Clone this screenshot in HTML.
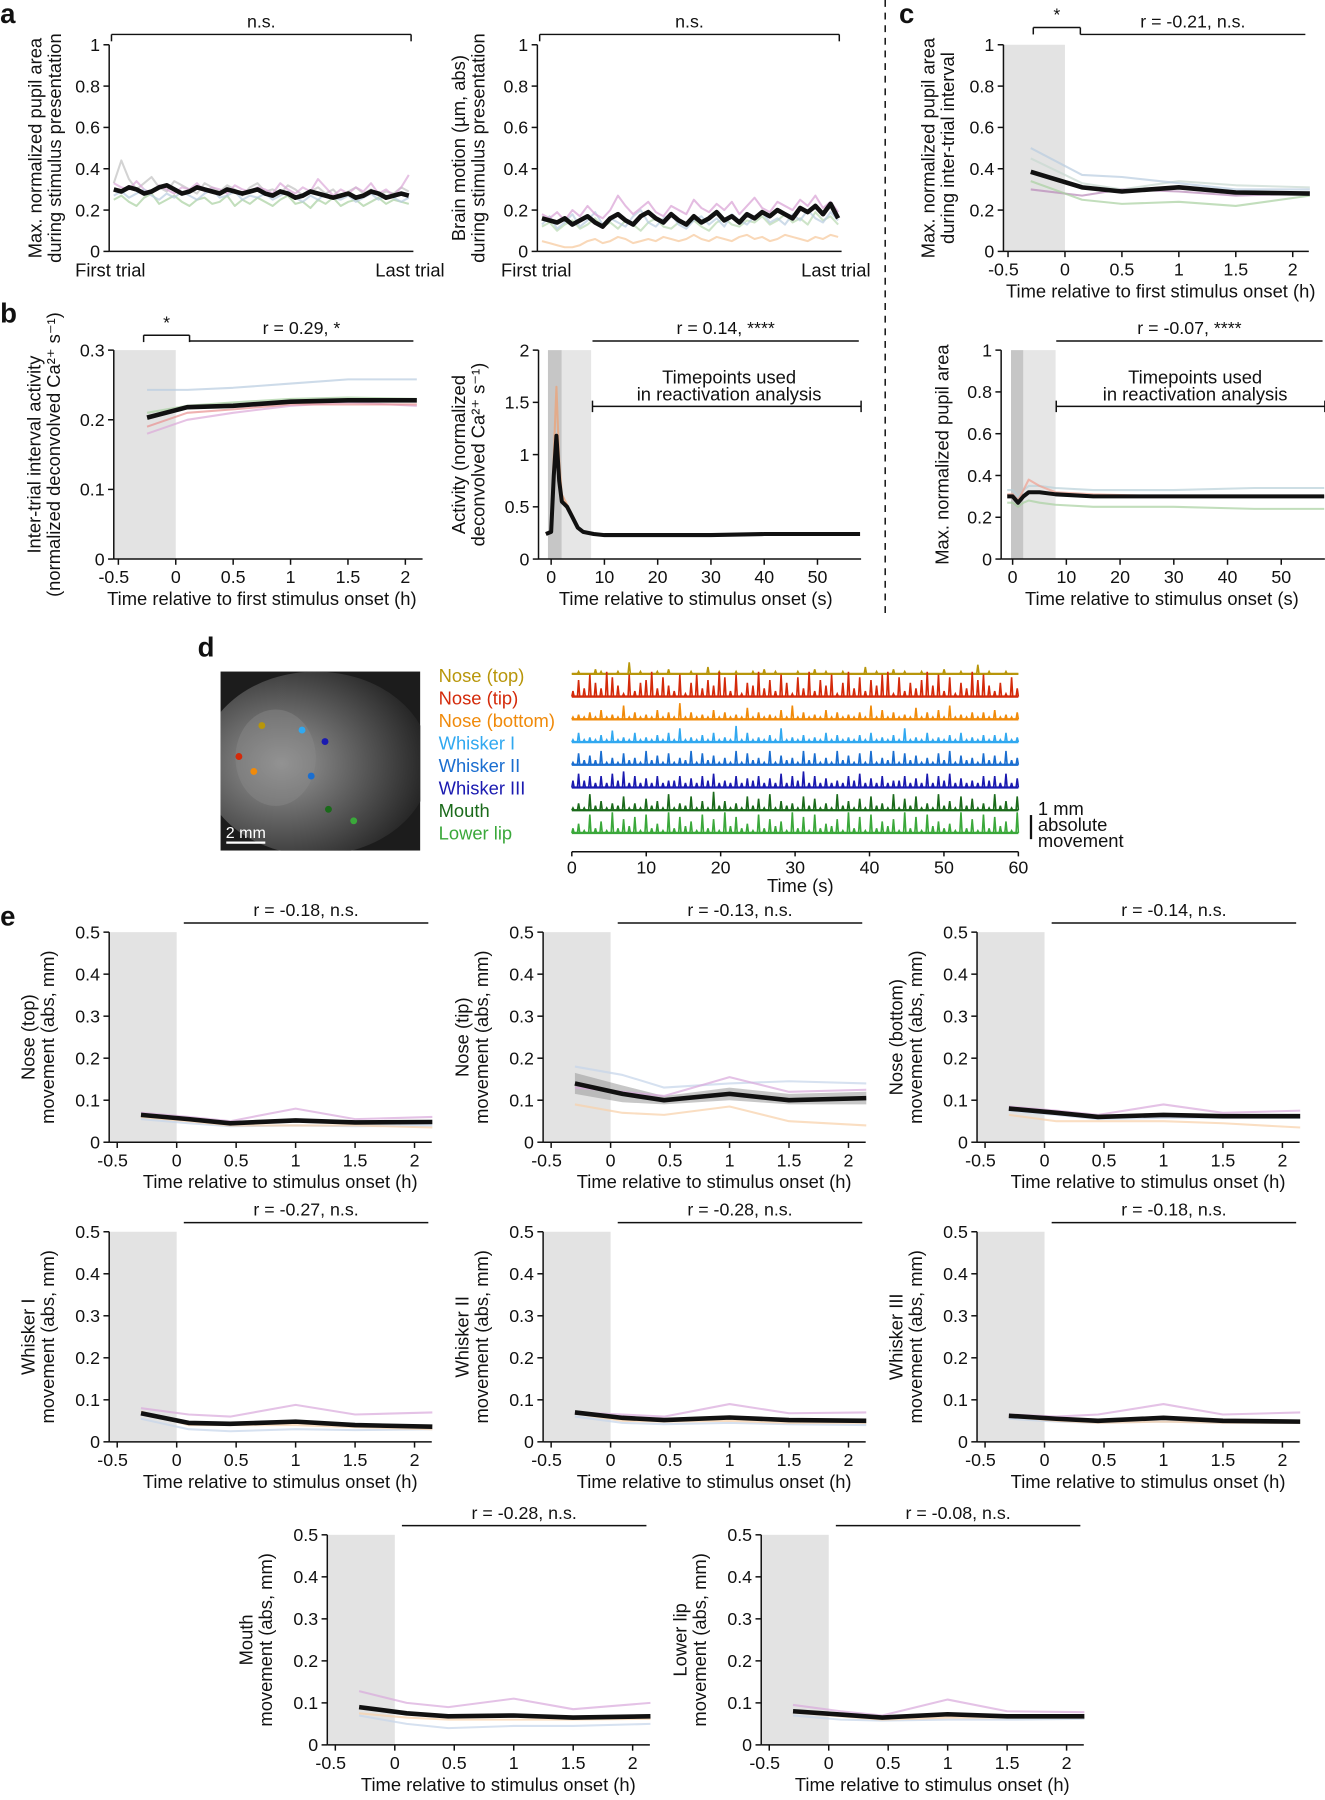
<!DOCTYPE html>
<html><head><meta charset="utf-8"><style>
html,body{margin:0;padding:0;background:#fff;}
svg{display:block;font-family:"Liberation Sans",Arial,sans-serif;}
</style></head><body>
<svg id="fig" width="1325" height="1800" viewBox="0 0 1154 1568" xmlns="http://www.w3.org/2000/svg">
<defs><radialGradient id="fur" cx="0.35" cy="0.5" r="0.7"><stop offset="0" stop-color="#9a9a9a"/><stop offset="0.5" stop-color="#5a5a5a"/><stop offset="1" stop-color="#1a1a1a"/></radialGradient>
<clipPath id="photoClip"><rect x="192" y="585" width="174" height="156"/></clipPath></defs>
</svg>
<script>
// ---------- data ----------
const trialIdx = Array.from({length:40},(_, i)=>i);
const a1Black=[0.30,0.29,0.31,0.30,0.28,0.29,0.31,0.32,0.30,0.28,0.29,0.31,0.30,0.29,0.28,0.30,0.29,0.28,0.29,0.30,0.28,0.27,0.29,0.28,0.26,0.27,0.29,0.28,0.27,0.26,0.27,0.28,0.26,0.27,0.29,0.28,0.26,0.27,0.28,0.27];
const a1Pink=[0.33,0.31,0.30,0.34,0.30,0.28,0.32,0.30,0.28,0.31,0.30,0.33,0.29,0.31,0.30,0.28,0.32,0.30,0.29,0.31,0.30,0.28,0.33,0.30,0.28,0.31,0.29,0.35,0.31,0.27,0.30,0.28,0.31,0.29,0.33,0.28,0.30,0.27,0.31,0.37];
const a1Green=[0.25,0.27,0.24,0.22,0.26,0.28,0.23,0.25,0.27,0.24,0.22,0.25,0.26,0.23,0.24,0.27,0.22,0.25,0.23,0.26,0.24,0.22,0.25,0.27,0.23,0.24,0.21,0.25,0.23,0.26,0.22,0.24,0.25,0.22,0.24,0.26,0.23,0.25,0.24,0.23];
const a1Gray=[0.33,0.44,0.35,0.30,0.33,0.36,0.31,0.29,0.34,0.32,0.30,0.28,0.33,0.31,0.29,0.32,0.30,0.27,0.31,0.33,0.29,0.30,0.28,0.32,0.30,0.27,0.29,0.31,0.28,0.30,0.26,0.29,0.31,0.28,0.30,0.27,0.29,0.28,0.31,0.29];
const a1Blue=[0.27,0.29,0.26,0.28,0.30,0.27,0.25,0.28,0.26,0.29,0.27,0.25,0.28,0.30,0.26,0.27,0.29,0.25,0.27,0.26,0.28,0.25,0.27,0.29,0.26,0.24,0.27,0.25,0.28,0.26,0.25,0.27,0.24,0.26,0.28,0.25,0.27,0.26,0.24,0.26];
const a2Black=[0.16,0.15,0.14,0.16,0.13,0.15,0.17,0.14,0.12,0.16,0.18,0.15,0.13,0.17,0.19,0.16,0.14,0.18,0.15,0.13,0.17,0.14,0.16,0.19,0.15,0.17,0.14,0.18,0.16,0.19,0.17,0.20,0.18,0.16,0.21,0.19,0.22,0.18,0.23,0.16];
const a2Pink=[0.18,0.16,0.19,0.15,0.20,0.17,0.22,0.18,0.16,0.20,0.27,0.22,0.18,0.21,0.24,0.19,0.17,0.22,0.20,0.18,0.25,0.21,0.19,0.23,0.20,0.24,0.18,0.22,0.26,0.21,0.19,0.24,0.22,0.20,0.25,0.22,0.27,0.21,0.24,0.19];
const a2Orange=[0.05,0.04,0.03,0.02,0.02,0.03,0.05,0.06,0.04,0.05,0.07,0.06,0.04,0.05,0.06,0.05,0.07,0.06,0.05,0.06,0.08,0.06,0.05,0.07,0.06,0.05,0.07,0.08,0.06,0.07,0.05,0.06,0.08,0.07,0.06,0.05,0.07,0.06,0.08,0.07];
const a2Blue=[0.13,0.17,0.11,0.14,0.18,0.12,0.15,0.19,0.13,0.16,0.14,0.12,0.17,0.20,0.14,0.12,0.16,0.18,0.13,0.11,0.15,0.17,0.13,0.16,0.12,0.18,0.15,0.13,0.17,0.19,0.14,0.16,0.13,0.18,0.15,0.20,0.16,0.14,0.19,0.15];
const a2Green=[0.12,0.14,0.10,0.13,0.15,0.11,0.13,0.16,0.12,0.14,0.11,0.15,0.13,0.10,0.14,0.16,0.12,0.11,0.14,0.13,0.15,0.12,0.10,0.14,0.16,0.13,0.12,0.15,0.14,0.17,0.13,0.15,0.18,0.14,0.16,0.13,0.19,0.15,0.17,0.13];

const b1Hours=[-0.25,0.1,0.5,1,1.5,2.1];
const b1Black=[0.203,0.218,0.22,0.226,0.228,0.228];
const b1Blue=[0.243,0.243,0.246,0.252,0.258,0.258];
const b1Red=[0.19,0.21,0.215,0.222,0.222,0.222];
const b1Green=[0.21,0.22,0.225,0.23,0.232,0.23];
const b1Pink=[0.18,0.2,0.21,0.22,0.225,0.22];

const c1Hours=[-0.3,0.15,0.5,1,1.5,2.15];
const c1Black=[0.385,0.31,0.29,0.31,0.285,0.28];
const c1Blue=[0.5,0.37,0.36,0.33,0.3,0.3];
const c1Pink=[0.3,0.27,0.3,0.29,0.27,0.28];
const c1Green=[0.34,0.25,0.23,0.24,0.22,0.27];
const c1Gray=[0.45,0.33,0.3,0.34,0.32,0.31];

const b2Sec=[-1,0,0.5,1,1.5,2,3,4,5,6,8,10,15,20,30,40,50,58];
const b2Black=[0.24,0.26,0.8,1.18,0.75,0.55,0.5,0.4,0.3,0.26,0.24,0.23,0.23,0.23,0.23,0.24,0.24,0.24];
const b2Red=[0.24,0.27,1.0,1.65,0.95,0.62,0.52,0.42,0.3,0.26,0.24,0.23,0.23,0.23,0.24,0.24,0.24,0.24];
const c2Sec=[-1,0,1,2,3,5,8,15,30,45,58];
const c2Black=[0.30,0.30,0.27,0.30,0.32,0.32,0.31,0.30,0.30,0.30,0.30];
const c2Blue=[0.33,0.33,0.30,0.33,0.35,0.35,0.34,0.33,0.33,0.34,0.34];
const c2Green=[0.27,0.27,0.25,0.27,0.28,0.27,0.26,0.25,0.25,0.24,0.24];
const c2Red=[0.31,0.31,0.28,0.33,0.38,0.35,0.32,0.31,0.30,0.30,0.30];

const traceNames=["Nose (top)","Nose (tip)","Nose (bottom)","Whisker I","Whisker II","Whisker III","Mouth","Lower lip"];
const traceColors=["#b8960a","#d42a0a","#f08a0a","#30a8f0","#1a6ed0","#1a1ab0","#1a6a1a","#3aa83a"];
const traceDigits=[
"01002100105010010200010030100100102010001002010010003010020100100020010040100100",
"26385397418256937428158364972815493628517392648159372648917253694827153968425173",
"12131412161312141317131214131215131214161312141312131614131215131416121313141213",
"14121315121412131416121314121714121316121312141312131412131612141213141213131412",
"15242613152316241513261524131615231614231625131624151613261524131526142315241623",
"36352526372524252335242536232524352426253725242325362425233524262536242325352624",
"13172413261315241713261418241316251714231625131724151623171526131724162513172416",
"24182519263718241927351826193724182635192718243619271825361927183524192618273519"];
const traceTicks=[0,10,20,30,40,50,60];

const eHours=[-0.3,0.1,0.45,1,1.5,2.15];
const eTitles=["r = -0.18, n.s.","r = -0.13, n.s.","r = -0.14, n.s.","r = -0.27, n.s.","r = -0.28, n.s.","r = -0.18, n.s.","r = -0.28, n.s.","r = -0.08, n.s."];
const eLabels=[["Nose (top)","movement (abs, mm)"],["Nose (tip)","movement (abs, mm)"],["Nose (bottom)","movement (abs, mm)"],["Whisker I","movement (abs, mm)"],["Whisker II","movement (abs, mm)"],["Whisker III","movement (abs, mm)"],["Mouth","movement (abs, mm)"],["Lower lip","movement (abs, mm)"]];
const eBlack=[[0.065,0.055,0.045,0.052,0.047,0.048],[0.14,0.115,0.10,0.115,0.10,0.105],[0.08,0.07,0.06,0.065,0.062,0.062],[0.068,0.045,0.043,0.048,0.04,0.036],[0.07,0.057,0.052,0.058,0.052,0.05],[0.062,0.055,0.05,0.057,0.05,0.048],[0.09,0.075,0.068,0.07,0.065,0.068],[0.08,0.072,0.065,0.073,0.068,0.068]];
const ePink=[[0.07,0.06,0.05,0.08,0.055,0.06],[0.13,0.12,0.11,0.155,0.12,0.125],[0.085,0.075,0.065,0.09,0.07,0.075],[0.08,0.065,0.06,0.088,0.065,0.07],[0.07,0.065,0.06,0.09,0.068,0.07],[0.065,0.06,0.065,0.09,0.065,0.07],[0.128,0.1,0.09,0.11,0.085,0.1],[0.095,0.08,0.07,0.108,0.08,0.078]];
const eOrange=[[0.06,0.05,0.04,0.04,0.04,0.035],[0.09,0.07,0.065,0.085,0.05,0.04],[0.065,0.05,0.05,0.05,0.045,0.035],[0.072,0.04,0.04,0.04,0.035,0.03],[0.068,0.05,0.048,0.05,0.045,0.045],[0.06,0.05,0.045,0.048,0.045,0.045],[0.075,0.065,0.06,0.06,0.06,0.062],[0.078,0.068,0.06,0.065,0.065,0.065]];
const eBlue=[[0.055,0.045,0.038,0.04,0.038,0.04],[0.18,0.16,0.13,0.14,0.145,0.14],[0.075,0.065,0.055,0.058,0.058,0.058],[0.055,0.03,0.025,0.03,0.028,0.03],[0.06,0.045,0.042,0.045,0.042,0.04],[0.055,0.048,0.045,0.048,0.045,0.045],[0.07,0.05,0.04,0.045,0.045,0.05],[0.07,0.06,0.058,0.06,0.06,0.062]];
const tipBandLo=[0.115,0.095,0.09,0.1,0.09,0.09];
const tipBandHi=[0.165,0.135,0.11,0.13,0.115,0.12];

// ---------- helpers ----------
const svg=document.getElementById('fig');
const NS='http://www.w3.org/2000/svg';
const TFS=15.5, LFS=16;
function mk(tag,attrs,parent,txt){const e=document.createElementNS(NS,tag);for(const k in attrs)e.setAttribute(k,attrs[k]);if(txt!==undefined)e.textContent=txt;(parent||svg).appendChild(e);return e;}
function txt(x,y,s,opts,parent){opts=opts||{};const e=mk('text',Object.assign({x:x,y:y,'font-size':opts.fs||TFS,'text-anchor':opts.anchor||'middle',fill:opts.fill||'#111'},opts.extra||{}),parent,s);return e;}

function panel(c){
  const g=mk('g',{});
  
  
  const sx=v=>c.xp[0]+(v-c.xd[0])/(c.xd[1]-c.xd[0])*(c.xp[1]-c.xp[0]);
  const sy=v=>c.yp[0]+(v-c.yd[0])/(c.yd[1]-c.yd[0])*(c.yp[1]-c.yp[0]);
  const axX=c.axX!==undefined?c.axX:sx(c.xd[0])-3;
  (c.shades||[]).forEach(s=>{const x0=s[0]===null?axX:sx(s[0]);const r=mk('rect',{x:x0,y:c.yp[1],width:sx(s[1])-x0,height:c.yp[0]-c.yp[1],fill:s[2]},g);});
  (c.bands||[]).forEach(b=>{let pts=b.x.map((x,i)=>sx(x)+','+sy(b.hi[i]));pts=pts.concat(b.x.map((x,i)=>sx(x)+','+sy(b.lo[i])).reverse());const p=mk('polygon',{points:pts.join(' '),fill:'#999','fill-opacity':0.55},g);});
  c.series.forEach(s=>{const pts=s.x.map((x,i)=>sx(x).toFixed(1)+','+sy(s.y[i]).toFixed(1)).join(' ');const p=mk('polyline',{points:pts,fill:'none',stroke:s.color,'stroke-width':s.w||1.8,'stroke-opacity':s.w?1:0.7,'stroke-linejoin':'round'},g);});
  const ax=mk('g',{stroke:'#111','stroke-width':1.3},g);
  
  mk('line',{x1:axX,y1:c.yp[0],x2:axX,y2:sy(c.yd[1]),},ax);
  mk('line',{x1:axX,y1:c.yp[0],x2:c.axEnd||sx(c.xd[1]),y2:c.yp[0]},ax);
  c.yticks.forEach((v,i)=>{mk('line',{x1:axX-5,y1:sy(v),x2:axX,y2:sy(v)},ax);const t=txt(axX-8,sy(v)+5.5,c.yticklabels[i],{anchor:'end'},g);});
  (c.xticks||[]).forEach((v,i)=>{mk('line',{x1:sx(v),y1:c.yp[0],x2:sx(v),y2:c.yp[0]+5},ax);const t=txt(sx(v)-(String(c.xticklabels[i]).startsWith('-')?4:0),c.yp[0]+21,c.xticklabels[i],{},g);});
  if(c.xlab){const t=txt(c.xlabX||(sx(c.xd[0])+sx(c.xd[1]))/2,c.yp[0]+40,c.xlab,{fs:LFS},g);}
  const cy=(c.yp[0]+c.yp[1])/2;
  c.ylab.forEach((l,i)=>{const x=c.ylabX+i*17;const t=txt(x,cy,l,{fs:LFS,extra:{transform:'rotate(-90 '+x+' '+cy+')'}},g);});
  (c.brackets||[]).forEach(b=>{const bg=mk('g',{stroke:'#111','stroke-width':1.3},g);mk('line',{x1:b[0],y1:b[2],x2:b[1],y2:b[2]},bg);if(b[4]){mk('line',{x1:b[0],y1:b[2],x2:b[0],y2:b[2]+6},bg);mk('line',{x1:b[1],y1:b[2],x2:b[1],y2:b[2]+6},bg);}const t=txt((b[0]+b[1])/2,b[2]-6,b[3],{},g);});
  return {g,sx,sy};
}
const y01=[0,0.2,0.4,0.6,0.8,1], y01L=['0','0.2','0.4','0.6','0.8','1'];
const hT=[-0.5,0,0.5,1,1.5,2], hL=['-0.5','0','0.5','1','1.5','2'];
const sT=[0,10,20,30,40,50], sL=['0','10','20','30','40','50'];

// panel letters
[['a',0,20],['b',0,281],['c',783,20],['d',172,572],['e',0,806]].forEach(l=>{const t=txt(l[1],l[2],l[0],{fs:24,anchor:'start',extra:{'font-weight':'bold'}});});
const dl=mk('line',{x1:771,y1:0,x2:771,y2:537,stroke:'#111','stroke-width':1.3,'stroke-dasharray':'6,5'});


// panel a1
panel({name:'panel-a-pupil',xd:[0,39],xp:[99,356],yd:[0,1],yp:[219,39],axX:95,axEnd:360,yticks:y01,yticklabels:y01L,ylab:['Max. normalized pupil area','during stimulus presentation'],ylabX:36,
 brackets:[[97,358,30,'n.s.',true]],
 series:[{x:trialIdx,y:a1Gray,color:'#c0c0c0',name:'mouse-line'},{x:trialIdx,y:a1Pink,color:'#dba8d8',name:'mouse-line'},{x:trialIdx,y:a1Green,color:'#a8d0a0',name:'mouse-line'},{x:trialIdx,y:a1Blue,color:'#b8cce0',name:'mouse-line'},{x:trialIdx,y:a1Black,color:'#111',w:4,name:'mean-line'}]});
txt(96,241,'First trial',{fs:LFS});txt(357,241,'Last trial',{fs:LFS});
// panel a2
panel({name:'panel-a-brain-motion',xd:[0,39],xp:[472,730],yd:[0,1],yp:[219,39],axX:468,axEnd:733,yticks:y01,yticklabels:y01L,ylab:['Brain motion (\u00b5m, abs)','during stimulus presentation'],ylabX:405,
 brackets:[[470,731,30,'n.s.',true]],
 series:[{x:trialIdx,y:a2Orange,color:'#f6c89a',name:'mouse-line'},{x:trialIdx,y:a2Green,color:'#b8d8b0',name:'mouse-line'},{x:trialIdx,y:a2Blue,color:'#b8cce0',name:'mouse-line'},{x:trialIdx,y:a2Pink,color:'#d8a0d4',name:'mouse-line'},{x:trialIdx,y:a2Black,color:'#111',w:4,name:'mean-line'}]});
txt(467,241,'First trial',{fs:LFS});txt(728,241,'Last trial',{fs:LFS});

// panel c1
panel({name:'panel-c-pupil-iti',xd:[-0.5,2],xp:[878,1126],yd:[0,1],yp:[219,39],axX:874,axEnd:1140,yticks:y01,yticklabels:y01L,xticks:hT,xticklabels:hL,xlab:'Time relative to first stimulus onset (h)',xlabX:1011,ylab:['Max. normalized pupil area','during inter-trial interval'],ylabX:814,
 shades:[[null,0,'#e3e3e3']],brackets:[[900,941,24,'*',true],[941,1137,30,'r = -0.21, n.s.',false]],
 series:[{x:c1Hours,y:c1Gray,color:'#c8d8d0',name:'mouse-line'},{x:c1Hours,y:c1Blue,color:'#b8cce0',name:'mouse-line'},{x:c1Hours,y:c1Pink,color:'#b888b8',name:'mouse-line'},{x:c1Hours,y:c1Green,color:'#a8d0a0',name:'mouse-line'},{x:c1Hours,y:c1Black,color:'#111',w:4,name:'mean-line'}]});

// panel b1
panel({name:'panel-b-iti-activity',xd:[-0.5,2],xp:[103,353],yd:[0,0.3],yp:[487,305],axX:99,axEnd:368,yticks:[0,0.1,0.2,0.3],yticklabels:['0','0.1','0.2','0.3'],xticks:hT,xticklabels:hL,xlab:'Time relative to first stimulus onset (h)',xlabX:228,ylab:['Inter-trial interval activity','(normalized deconvolved Ca\u00b2\u207a s\u207b\u00b9)'],ylabX:35,
 shades:[[null,0,'#e3e3e3']],brackets:[[125,165,292,'*',true],[165,360,297,'r = 0.29, *',false]],
 series:[{x:b1Hours,y:b1Blue,color:'#b8cce0',name:'mouse-line'},{x:b1Hours,y:b1Green,color:'#a8d0a0',name:'mouse-line'},{x:b1Hours,y:b1Pink,color:'#dba8d8',name:'mouse-line'},{x:b1Hours,y:b1Red,color:'#e89090',name:'mouse-line'},{x:b1Hours,y:b1Black,color:'#111',w:4,name:'mean-line'}]});

// panel b2
panel({name:'panel-b-activity-time',xd:[0,50],xp:[480,712],yd:[0,2],yp:[487,305],axX:469,axEnd:750,yticks:[0,0.5,1,1.5,2],yticklabels:['0','0.5','1','1.5','2'],xticks:sT,xticklabels:sL,xlab:'Time relative to stimulus onset (s)',xlabX:606,ylab:['Activity (normalized','deconvolved Ca\u00b2\u207a s\u207b\u00b9)'],ylabX:405,
 shades:[[-0.6,2,'#c6c6c6'],[2,7.5,'#e6e6e6']],brackets:[[516,748,297,'r = 0.14, ****',false]],
 series:[{x:b2Sec,y:b2Red,color:'#f0a070',name:'mouse-line'},{x:b2Sec,y:b2Black,color:'#111',w:3.5,name:'mean-line'}]});
// panel c2
panel({name:'panel-c-pupil-time',xd:[0,50],xp:[882,1116],yd:[0,1],yp:[487,305],axX:872,axEnd:1154,yticks:y01,yticklabels:y01L,xticks:sT,xticklabels:sL,xlab:'Time relative to stimulus onset (s)',xlabX:1012,ylab:['Max. normalized pupil area'],ylabX:826,
 shades:[[-0.3,2,'#c6c6c6'],[2,8,'#e6e6e6']],brackets:[[920,1152,297,'r = -0.07, ****',false]],
 series:[{x:c2Sec,y:c2Blue,color:'#b8d0d8',name:'mouse-line'},{x:c2Sec,y:c2Green,color:'#a8d0a0',name:'mouse-line'},{x:c2Sec,y:c2Red,color:'#f0a090',name:'mouse-line'},{x:c2Sec,y:c2Black,color:'#111',w:3.5,name:'mean-line'}]});
// reactivation brackets
[[516,750,354,635],[920,1154,354,1041]].forEach(b=>{const g=mk('g',{stroke:'#111','stroke-width':1.3});mk('line',{x1:b[0],y1:b[2],x2:b[1],y2:b[2]},g);mk('line',{x1:b[0],y1:b[2]-5,x2:b[0],y2:b[2]+5},g);mk('line',{x1:b[1],y1:b[2]-5,x2:b[1],y2:b[2]+5},g);txt(b[3],334,'Timepoints used',{fs:LFS});txt(b[3],349,'in reactivation analysis',{fs:LFS});});

// panel d photo
const ph=mk('g',{'clip-path':'url(#photoClip)'});
mk('rect',{x:192,y:585,width:174,height:156,fill:'#1c1c1c'},ph);
mk('ellipse',{cx:275,cy:665,rx:100,ry:80,fill:'url(#fur)'},ph);
mk('ellipse',{cx:240,cy:660,rx:35,ry:42,fill:'#8a8a8a','fill-opacity':0.45},ph);
[[228,632,'#b8960a'],[208,659,'#d42a0a'],[221,672,'#f08a0a'],[263,636,'#30a8f0'],[271,676,'#1a6ed0'],[283,646,'#1a1ab0'],[286,705,'#1a6a1a'],[308,715,'#3aa83a']].forEach(d=>{const c=mk('circle',{cx:d[0],cy:d[1],r:3,fill:d[2]},ph);});
mk('line',{x1:197,y1:734,x2:231,y2:734,stroke:'#fff','stroke-width':2},ph);
txt(214,730,'2 mm',{fs:14,fill:'#fff'},ph);
// legend + traces
const tx0=498,tx1=887;
const txs=v=>tx0+(v-0)/60*(tx1-tx0);
traceNames.forEach((n,i)=>{
  const t=txt(382,594+i*19.6,n,{fs:LFS,anchor:'start',fill:traceColors[i]});
  
  const base=587+i*19.8;const d=traceDigits[i];const N=d.length;
  const k=i===1?2.4:2.0;
  let pts=[];for(let j=0;j<N;j++){const x=tx0+j/(N-1)*(tx1-tx0-2);const h=(+d[j])*k;pts.push(x.toFixed(1)+','+base);pts.push((x+1).toFixed(1)+','+(base-h));pts.push((x+2).toFixed(1)+','+base);}
  const p=mk('polyline',{points:pts.join(' '),fill:'none',stroke:traceColors[i],'stroke-width':1.4});
  
  const bl=mk('line',{x1:tx0,y1:base,x2:tx1,y2:base,stroke:traceColors[i],'stroke-width':2});
  
});
const dax=mk('g',{stroke:'#111','stroke-width':1.3});
mk('line',{x1:tx0,y1:742,x2:tx1,y2:742},dax);
traceTicks.forEach(v=>{mk('line',{x1:txs(v),y1:742,x2:txs(v),y2:746},dax);txt(txs(v),761,String(v));});
txt(697,777,'Time (s)',{fs:LFS});
const sb=mk('line',{x1:898,y1:710,x2:898,y2:731,stroke:'#111','stroke-width':2});
txt(904,710,'1 mm',{fs:LFS,anchor:'start'});txt(904,724,'absolute',{fs:LFS,anchor:'start'});txt(904,738,'movement',{fs:LFS,anchor:'start'});

// panel e
const eY=[0,0.1,0.2,0.3,0.4,0.5], eYL=['0','0.1','0.2','0.3','0.4','0.5'];
const ePos=[[154,995],[532,995],[910,995],[154,1256],[532,1256],[910,1256],[344,1520],[722,1520]];
eTitles.forEach((title,i)=>{
  const x0=ePos[i][0],yb=ePos[i][1];
  const cfg={name:'panel-e-'+traceNames[i].toLowerCase().replace(/[^a-z]+/g,'-').replace(/-$/,''),xd:[-0.5,2],xp:[x0-52,x0+207],yd:[0,0.5],yp:[yb,yb-183],axX:x0-59,axEnd:x0+222,yticks:eY,yticklabels:eYL,xticks:hT,xticklabels:hL,xlab:'Time relative to stimulus onset (h)',xlabX:x0+90,ylab:eLabels[i],ylabX:x0-124,
   shades:[[null,0,'#e3e3e3']],brackets:[[x0+6,x0+219,yb-191,title,false]],
   series:[{x:eHours,y:eBlue[i],color:'#c4d4ea',name:'mouse-line'},{x:eHours,y:eOrange[i],color:'#f8d0a8',name:'mouse-line'},{x:eHours,y:ePink[i],color:'#d8a8dc',name:'mouse-line'},{x:eHours,y:eBlack[i],color:'#111',w:4,name:'mean-line'}]};
  if(i===1)cfg.bands=[{x:eHours,lo:tipBandLo,hi:tipBandHi}];
  panel(cfg);
});
</script>
</body></html>
